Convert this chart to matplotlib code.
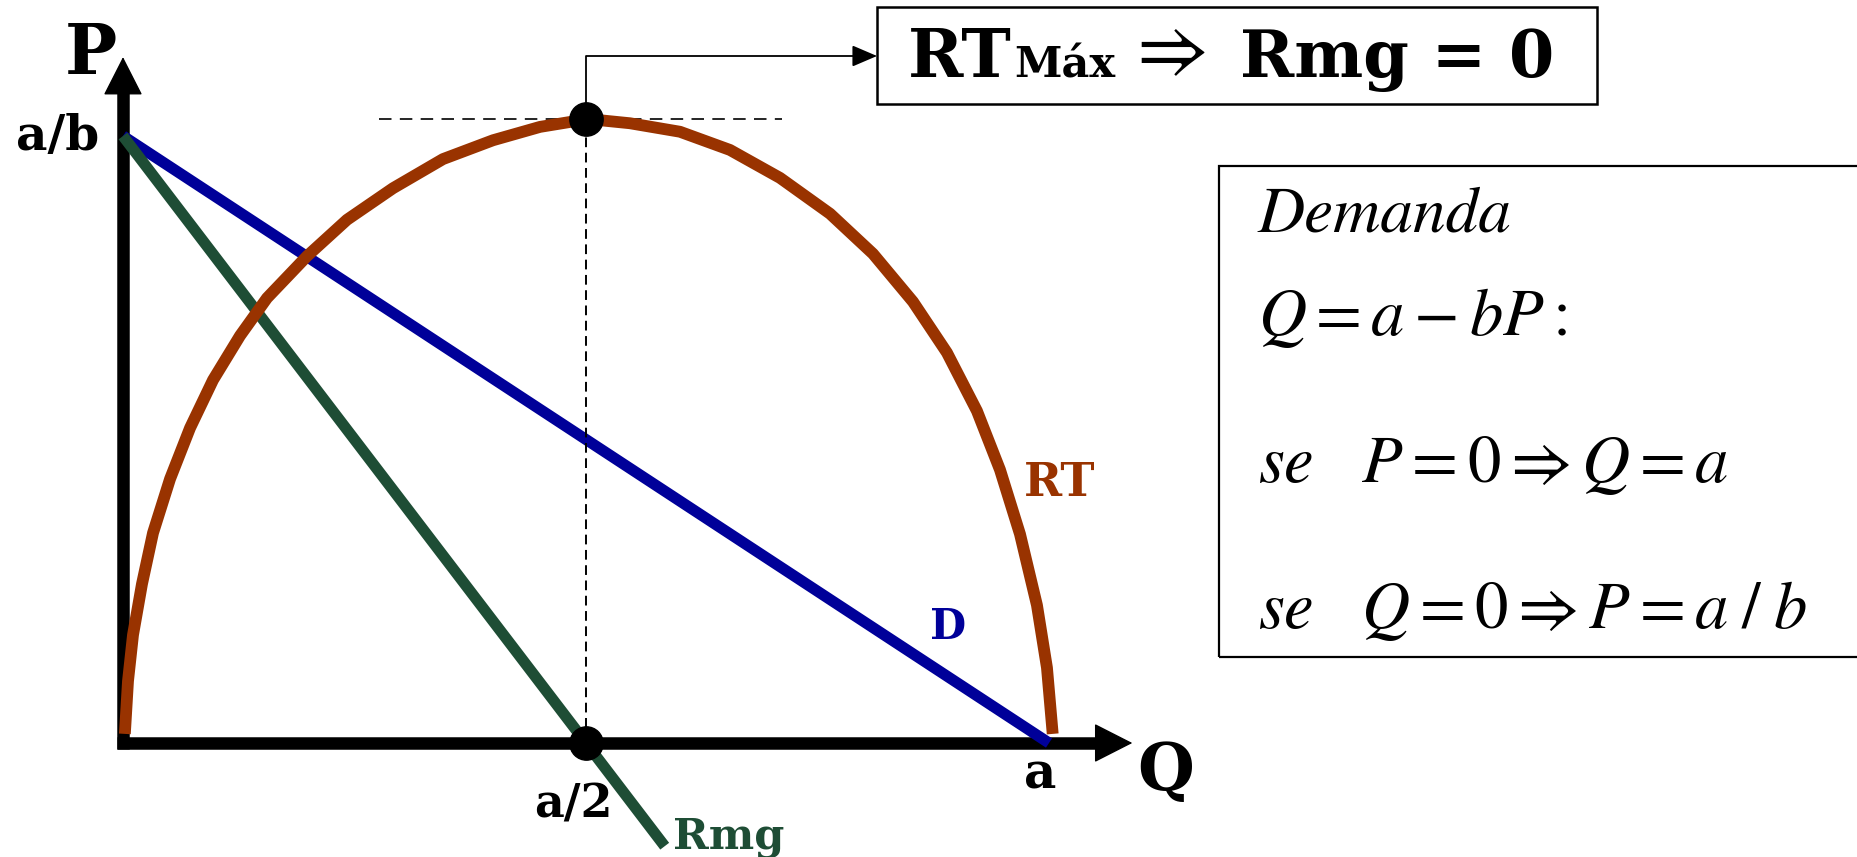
import matplotlib.pyplot as plt
from matplotlib.patches import Rectangle

plt.rcParams['mathtext.fontset'] = 'stix'
plt.rcParams['lines.scale_dashes'] = False

# diagram units: a = 10 on the Q axis, a/b = 10 on the P axis
demand_q = [0, 10]
demand_p = [10, 0]

# marginal revenue (Rmg), twice as steep as demand
rmg_q = [0, 5.85]
rmg_p = [10, -1.7]

# total revenue (RT)
rt_q = [0.02, 0.054, 0.108, 0.205, 0.324, 0.508, 0.724, 0.972, 1.264, 1.555,
        1.987, 2.419, 2.916, 3.456, 3.996, 4.503, 4.903, 5.02, 5.475, 6.015,
        6.555, 7.095, 7.635, 8.099, 8.531, 8.898, 9.222, 9.471, 9.687, 9.870,
        9.978, 10.04]
rt_p = [0.15, 1.02, 1.78, 2.62, 3.46, 4.35, 5.19, 5.98, 6.71, 7.33,
        8.02, 8.62, 9.14, 9.62, 9.93, 10.15, 10.25, 10.28, 10.21, 10.07,
        9.77, 9.31, 8.72, 8.06, 7.27, 6.43, 5.47, 4.50, 3.44, 2.27,
        1.24, 0.15]

max_q = 5.0      # a/2
max_rt = 10.28   # RT max

demand_lines = [
    r"$Q = a - bP:$",
    r"$se\quad P = 0 \Rightarrow Q = a$",
    r"$se\quad Q = 0 \Rightarrow P = a\;/\;b$",
]

RT_COL = '#993300'
D_COL = '#000099'
RMG_COL = '#1E4D35'

W, H = 1858, 857


def fxy(x, y):
    return (x / W, 1 - y / H)


def main():
    fig = plt.figure(figsize=(W / 100, H / 100), dpi=100)
    ax = fig.add_axes([0, 0, 1, 1])
    # origin at pixel (123, 743), 92.6 px per Q unit, 60.7 px per P unit
    ax.set_xlim(-123 / 92.6, (W - 123) / 92.6)
    ax.set_ylim(-(H - 743) / 60.7, 743 / 60.7)
    ax.axis('off')

    # axes with arrow heads
    ax.plot([0, 0], [-0.1, 11.0], color='black', lw=9, solid_capstyle='butt', zorder=1)
    ax.plot([-0.07, 10.6], [0, 0], color='black', lw=9, solid_capstyle='butt', zorder=1)
    head = dict(arrowstyle='-|>,head_length=0.55,head_width=0.28', mutation_scale=46,
                lw=1, color='black', shrinkA=0, shrinkB=0)
    ax.annotate('', xy=(0, 11.3), xytext=(0, 5), arrowprops=head, zorder=1)
    ax.annotate('', xy=(10.9, 0), xytext=(5, 0), arrowprops=head, zorder=1)

    # guides
    ax.plot([max_q, max_q], [0, max_rt], color='black', lw=1.4, dashes=(7, 4), zorder=5)
    ax.plot([2.76, 7.12], [max_rt, max_rt], color='black', lw=1.2, dashes=(9, 6), zorder=1)

    # curves
    ax.plot(demand_q, demand_p, color=D_COL, lw=8, solid_capstyle='butt', zorder=2)
    ax.plot(rmg_q, rmg_p, color=RMG_COL, lw=8, solid_capstyle='butt', zorder=3)
    ax.plot(rt_q, rt_p, color=RT_COL, lw=8.5, solid_capstyle='butt',
            solid_joinstyle='round', zorder=4)

    # points
    ax.plot([max_q, max_q], [0, max_rt], 'o', ms=24, color='black', zorder=7)

    # connector to the box
    ax.annotate('', xy=fxy(877, 56), xycoords='figure fraction',
                xytext=(max_q, max_rt), textcoords='data',
                arrowprops=dict(arrowstyle='-|>,head_length=0.7,head_width=0.3',
                                mutation_scale=22, lw=1.3, color='black',
                                shrinkA=0, shrinkB=0,
                                connectionstyle='angle,angleA=90,angleB=0,rad=0'),
                zorder=4)

    bold = dict(family=['DejaVu Serif', 'DejaVu Sans'], weight='bold')

    # axis labels
    fig.text(*fxy(91, 74), 'P', fontsize=50, ha='center', va='baseline', **bold)
    fig.text(*fxy(1166, 790), 'Q', fontsize=47, ha='center', va='baseline', **bold)
    fig.text(*fxy(58, 137), 'a/b', fontsize=35, ha='center', va='center', **bold)
    fig.text(*fxy(573, 804), 'a/2', fontsize=33, ha='center', va='center', **bold)
    fig.text(*fxy(1040, 775), 'a', fontsize=36, ha='center', va='center', **bold)

    # curve labels
    fig.text(*fxy(1024, 496), 'RT', fontsize=33, color=RT_COL, va='baseline', **bold)
    fig.text(*fxy(930, 639), 'D', fontsize=30, color=D_COL, va='baseline', **bold)
    fig.text(*fxy(673, 848), 'Rmg', fontsize=31, color=RMG_COL, va='baseline', **bold)

    # top box
    fig.patches.append(Rectangle(fxy(877, 104), 720 / W, 97 / H, transform=fig.transFigure,
                                 fill=False, ec='black', lw=1.8))
    fig.text(*fxy(908, 77), 'RT', fontsize=48, va='baseline', **bold)
    fig.text(*fxy(1014, 77), 'Máx', fontsize=31, va='baseline', **bold)
    fig.text(*fxy(1136, 72), '⇒', fontsize=56, va='baseline', family='STIXGeneral')
    fig.text(*fxy(1240, 77), 'Rmg = 0', fontsize=47, va='baseline', **bold)

    # demand box
    fig.patches.append(Rectangle(fxy(1219, 657), (1880 - 1219) / W, (657 - 166) / H,
                                 transform=fig.transFigure, fill=False, ec='black', lw=1.6))
    fig.text(*fxy(1258, 231), 'Demanda', fontsize=47, family='STIXGeneral',
             style='italic', va='baseline')
    for s, y in zip(demand_lines, [335, 482, 628]):
        fig.text(*fxy(1258, y), s, fontsize=48, va='baseline')

    fig.savefig('out.png', dpi=100)


if __name__ == "__main__":
    main()
